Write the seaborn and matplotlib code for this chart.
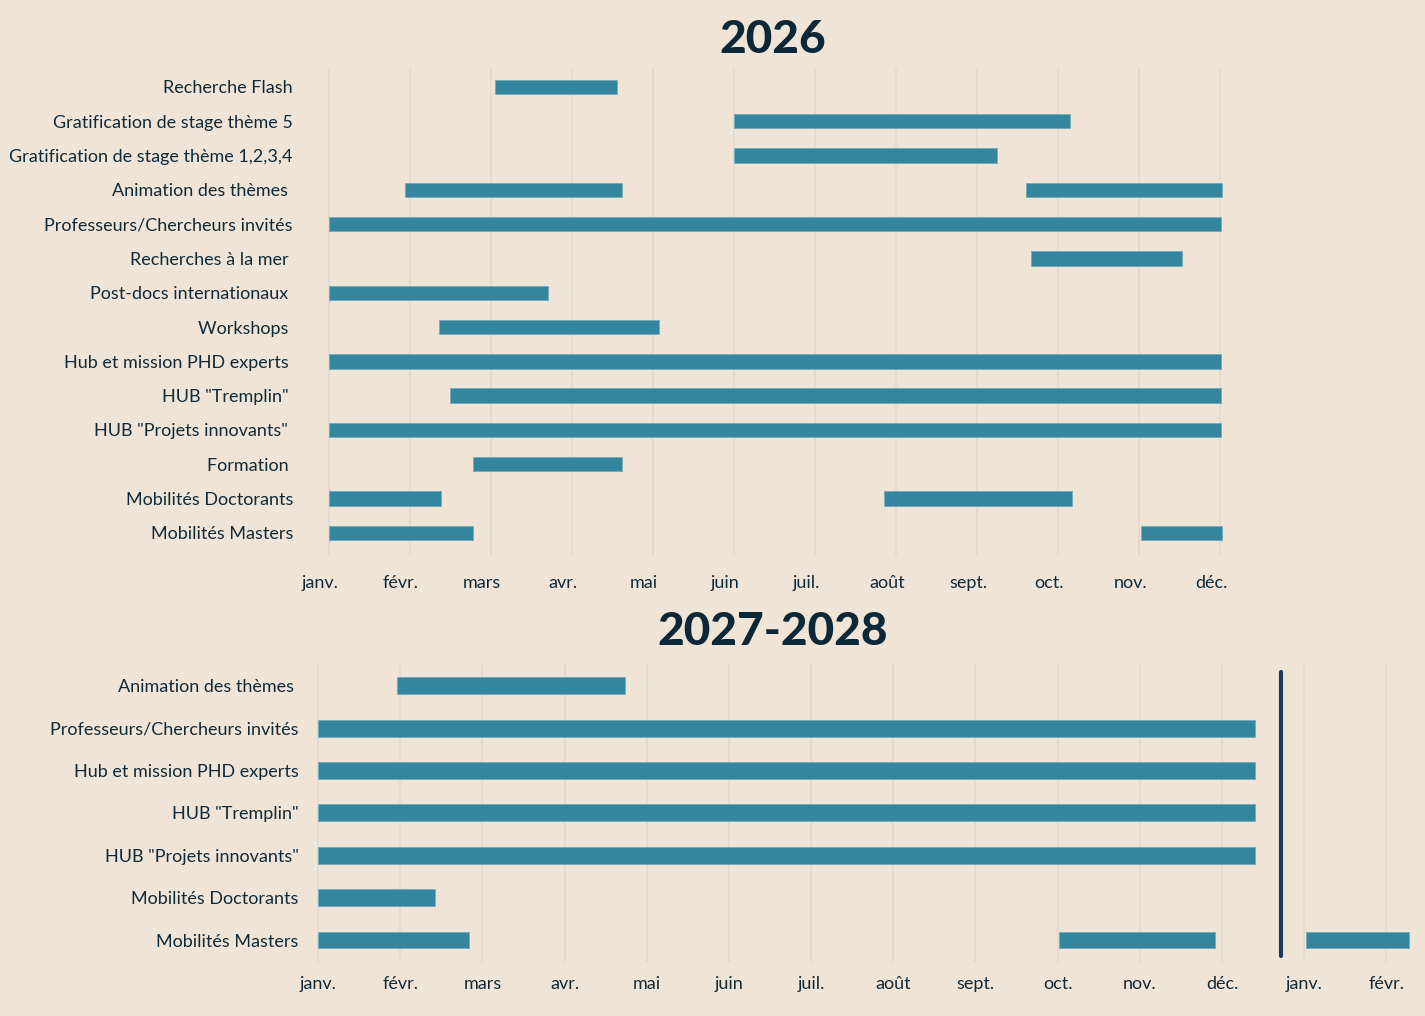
import matplotlib
matplotlib.use("Agg")
import matplotlib.pyplot as plt
import matplotlib.transforms as mtransforms
import seaborn as sns

# couleurs
BG = '#F0E4D7'
BAR = '#33869D'
TXT = '#0F2B3A'
GRID = '#DCD9D2'
VLINE = '#1B3A5C'

# --- 2026 ---
mois_2026 = ['janv.', 'févr.', 'mars', 'avr.', 'mai', 'juin', 'juil.',
             'août', 'sept.', 'oct.', 'nov.', 'déc.']
rows_2026 = ['Recherche Flash', 'Gratification de stage thème 5',
             'Gratification de stage thème 1,2,3,4', 'Animation des thèmes ',
             'Professeurs/Chercheurs invités', 'Recherches à la mer ',
             'Post-docs internationaux ', 'Workshops ',
             'Hub et mission PHD experts ', 'HUB "Tremplin" ',
             'HUB "Projets innovants" ', 'Formation ',
             'Mobilités Doctorants', 'Mobilités Masters']
# segments (ligne, début, fin) en mois depuis janvier
seg_row_2026 = [0, 1, 2, 3, 3, 4, 5, 6, 7, 8, 9, 10, 11, 12, 12, 13, 13]
seg_start_2026 = [2.05, 5.0, 5.0, 0.94, 8.6, 0.0, 8.67, 0.0, 1.36, 0.0, 1.5,
                  0.0, 1.78, 0.0, 6.85, 0.0, 10.02]
seg_end_2026 = [3.56, 9.15, 8.24, 3.62, 11.02, 11.01, 10.53, 2.7, 4.07, 11.01,
                11.01, 11.01, 3.62, 1.38, 9.17, 1.78, 11.02]

# --- 2027-2028 ---
mois_2027 = mois_2026 + ['janv.', 'févr.']
rows_2027 = ['Animation des thèmes ', 'Professeurs/Chercheurs invités',
             'Hub et mission PHD experts', 'HUB "Tremplin"',
             'HUB "Projets innovants"', 'Mobilités Doctorants',
             'Mobilités Masters']
seg_row_2027 = [0, 1, 2, 3, 4, 5, 6, 6, 6]
seg_start_2027 = [0.96, 0.0, 0.0, 0.0, 0.0, 0.0, 0.0, 9.02, 12.02]
seg_end_2027 = [3.73, 11.4, 11.4, 11.4, 11.4, 1.42, 1.84, 10.92, 13.28]
separateur_2027 = 11.72

sns.set_theme(style='white', rc={'figure.facecolor': BG, 'axes.facecolor': BG,
                                 'text.color': TXT, 'xtick.color': TXT,
                                 'ytick.color': TXT})
plt.rcParams['font.family'] = ['Lato', 'DejaVu Sans']

fig = plt.figure(figsize=(14.25, 10.16), dpi=100)
ax1 = fig.add_axes([0.228, 0.454, 0.634, 0.479])
ax2 = fig.add_axes([0.2204, 0.0531, 0.7726, 0.2943])


def gantt(ax, rows, seg_row, seg_start, seg_end, mois, height):
    for i in range(len(mois)):
        ax.axvline(i, color=GRID, lw=1.1, zorder=0)
    widths = [e - s for s, e in zip(seg_start, seg_end)]
    ax.barh(seg_row, widths, left=seg_start, height=height, color=BAR,
            edgecolor='#74AABA', linewidth=0.6, zorder=2)
    ax.set_yticks(range(len(rows)))
    ax.set_yticklabels(rows, fontsize=13)
    ax.set_xticks(range(len(mois)))
    ax.set_xticklabels(mois, fontsize=13)
    ax.tick_params(length=0)
    sns.despine(ax=ax, left=True, bottom=True)
    ax.grid(False)


gantt(ax1, rows_2026, seg_row_2026, seg_start_2026, seg_end_2026, mois_2026, 0.42)
ax1.set_xlim(-0.05, 11.1)
ax1.set_ylim(13.64, -0.55)
ax1.tick_params(axis='y', pad=23)
ax1.tick_params(axis='x', pad=14.5)
offset = mtransforms.ScaledTranslation(-9 / 100, 0, fig.dpi_scale_trans)
for lab in ax1.get_xticklabels():
    lab.set_transform(lab.get_transform() + offset)

gantt(ax2, rows_2027, seg_row_2027, seg_start_2027, seg_end_2027, mois_2027, 0.40)
ax2.set_xlim(-0.05, 13.35)
ax2.set_ylim(6.52, -0.54)
ax2.tick_params(axis='y', pad=11)
ax2.tick_params(axis='x', pad=10)
ax2.axvline(separateur_2027, ymin=0.02, ymax=0.97, color=VLINE, lw=3, zorder=3)

fig.text(0.5425, 0.961, '2026', ha='center', va='center', fontsize=33,
         fontweight='black', color='#0B2838')
fig.text(0.5425, 0.378, '2027-2028', ha='center', va='center', fontsize=33,
         fontweight='black', color='#0B2838')

fig.savefig('out.png', dpi=100, facecolor=BG)
